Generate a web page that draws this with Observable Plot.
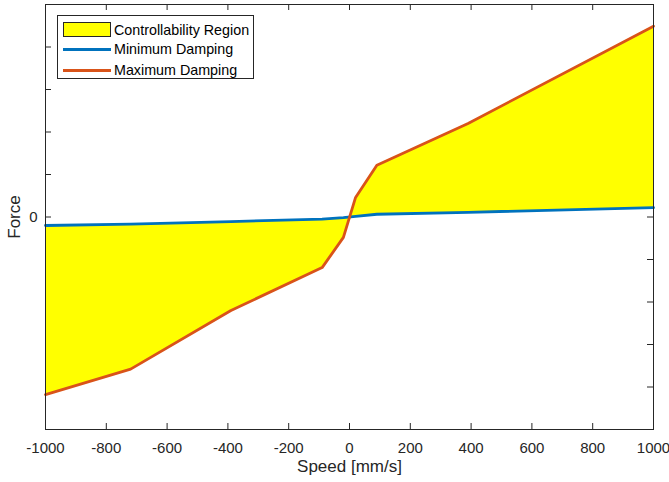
<!DOCTYPE html>
<html>
<head>
<meta charset="utf-8">
<script src="https://cdn.jsdelivr.net/npm/d3@7"></script>
<script src="https://cdn.jsdelivr.net/npm/@observablehq/plot@0.6"></script>
<style>
  body { margin: 0; background: #fff; }
  #wrap { position: relative; width: 669px; height: 482px; font-family: "Liberation Sans", Arial, sans-serif; }
  #wrap svg g[aria-label="x-axis label"], #wrap svg g[aria-label="y-axis label"] { font-size: 17px; }
  #legend { position: absolute; left: 57px; top: 15px; width: 197px; height: 64px; border: 1px solid #262626; background: #fff; box-sizing: border-box; }
  .row { position: absolute; left: 0; height: 20px; display: flex; align-items: center; }
  .sym { position: absolute; left: 5px; width: 48px; }
  .lab { position: absolute; left: 56px; font-size: 14.3px; color: #000; white-space: nowrap; line-height: 20px; }
</style>
</head>
<body>
<div id="wrap"></div>
<script>
// Data
const speeds      = [-1000, -720, -390, -90, -20, 20, 90, 390, 1000];
const minDamping  = [-0.20, -0.17, -0.107, -0.05, -0.015, 0.015, 0.065, 0.11, 0.22];
const maxDamping  = [-4.18, -3.58, -2.20, -1.19, -0.48, 0.46, 1.22, 2.20, 4.49];
const xTicks = [-1000, -800, -600, -400, -200, 0, 200, 400, 600, 800, 1000];
const yTicks = [-4, -3, -2, -1, 0, 1, 2, 3, 4];
const yLabelTicks = [0];
const legendLabels = ["Controllability Region", "Minimum Damping", "Maximum Damping"];
const fillColor = "#ffff00", minColor = "#0072bd", maxColor = "#d95319";

const data = speeds.map((s, i) => ({speed: s, min: minDamping[i], max: maxDamping[i]}));

const W = 669, H = 482, mL = 45, mR = 16, mT = 4, mB = 53;
const innerW = W - mL - mR, innerH = H - mT - mB, tk = 6;
const axisColor = "#262626";

const chart = Plot.plot({
  width: W, height: H,
  marginLeft: mL, marginRight: mR, marginTop: mT, marginBottom: mB,
  x: {domain: [-1000, 1000]},
  y: {domain: [-5, 5]},
  style: {fontFamily: "'Liberation Sans', Arial, sans-serif", fontSize: "15px", color: axisColor, background: "white"},
  marks: [
    Plot.gridX(xTicks, {stroke: axisColor, strokeOpacity: 1, insetTop: innerH - tk}),
    Plot.gridX(xTicks, {stroke: axisColor, strokeOpacity: 1, insetBottom: innerH - tk}),
    Plot.gridY(yTicks, {stroke: axisColor, strokeOpacity: 1, insetRight: innerW - tk}),
    Plot.gridY(yTicks, {stroke: axisColor, strokeOpacity: 1, insetLeft: innerW - tk}),
    Plot.areaY(data, {x: "speed", y1: "min", y2: "max", fill: fillColor}),
    Plot.line(data, {x: "speed", y: "min", stroke: minColor, strokeWidth: 2.8}),
    Plot.line(data, {x: "speed", y: "max", stroke: maxColor, strokeWidth: 2.8}),
    Plot.frame({stroke: axisColor}),
    Plot.axisX(xTicks, {tickSize: 0, tickPadding: 13, tickFormat: d => String(d), label: "Speed [mm/s]", labelAnchor: "center", labelArrow: "none", labelOffset: 42}),
    Plot.axisY(yLabelTicks, {tickSize: 0, tickPadding: 8, tickFormat: d => String(d), label: "Force", labelAnchor: "center", labelArrow: "none", labelOffset: 38})
  ]
});
const wrap = document.getElementById("wrap");
wrap.appendChild(chart);

// Legend (inside the axes, top-left)
const legend = document.createElement("div");
legend.id = "legend";
const rowsTop = [4, 23, 44];
legendLabels.forEach((lab, i) => {
  const row = document.createElement("div");
  row.className = "row";
  row.style.top = rowsTop[i] + "px";
  const sym = document.createElement("div");
  sym.className = "sym";
  if (i === 0) {
    sym.style.cssText = `top:2px;height:15px;background:${fillColor};border:1px solid #262626;box-sizing:border-box;`;
  } else {
    sym.style.cssText = `top:9px;height:3px;background:${i === 1 ? minColor : maxColor};`;
  }
  const t = document.createElement("div");
  t.className = "lab";
  t.style.top = "0px";
  t.textContent = lab;
  row.appendChild(sym);
  row.appendChild(t);
  legend.appendChild(row);
});
wrap.appendChild(legend);
</script>
</body>
</html>
